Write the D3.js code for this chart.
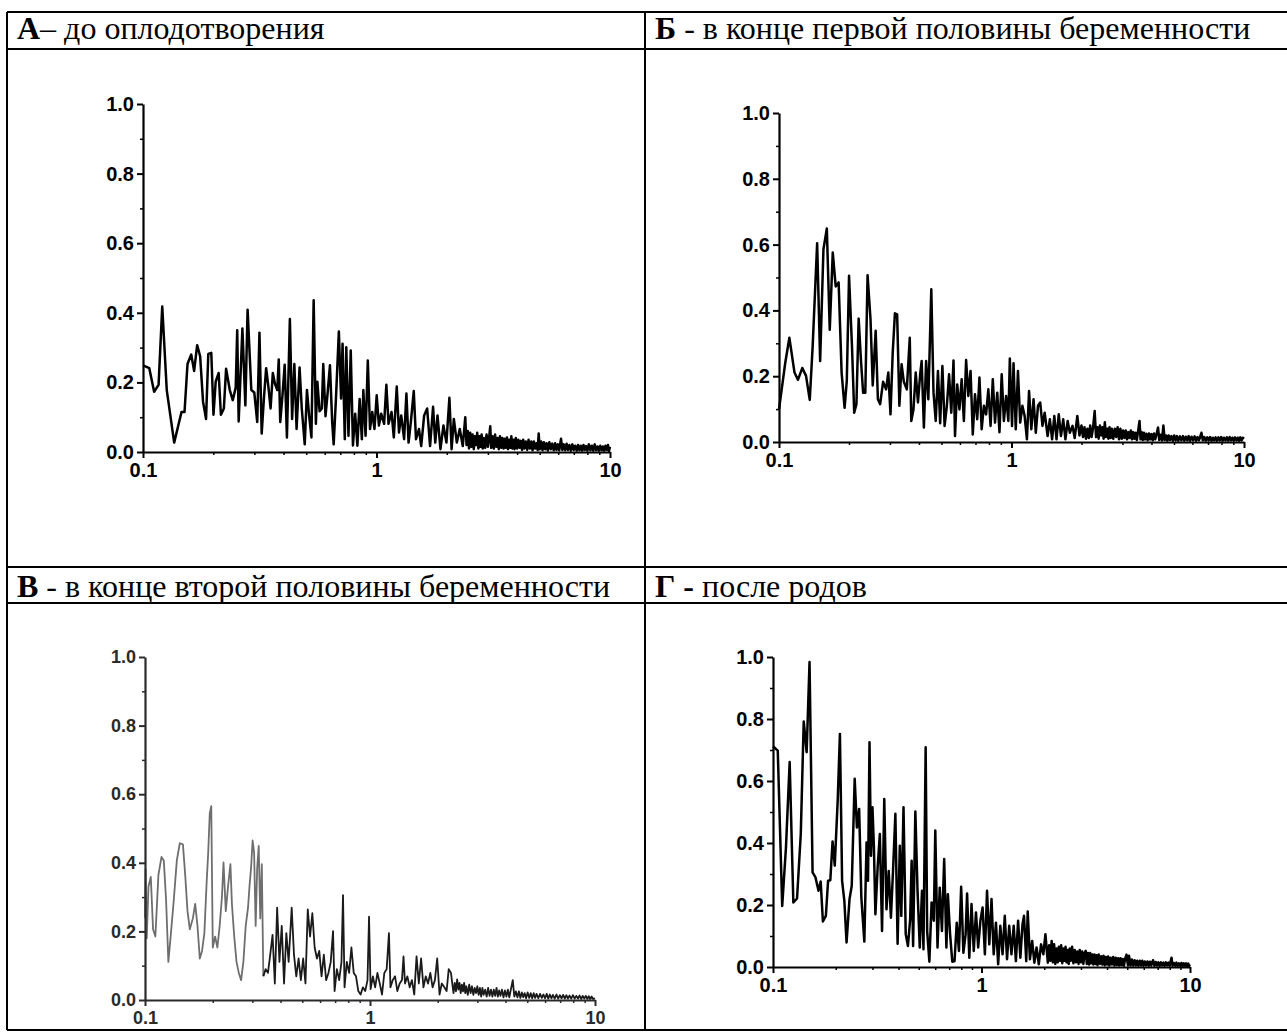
<!DOCTYPE html>
<html><head><meta charset="utf-8">
<script src="https://cdn.jsdelivr.net/npm/d3@7"></script>
<style>
html,body{margin:0;padding:0;background:#fff;}
svg{display:block;}
.hdr{font-family:"Liberation Serif","Times New Roman",serif;font-size:32px;fill:#000;white-space:pre;}
.tick text{font-family:"Liberation Sans",Arial,sans-serif;font-weight:bold;}
</style></head>
<body>
<script>
// ---------- data ----------
const headerBold = ["А", "Б", "В", "Г -"];
const headerRest = ["– до оплодотворения", " - в конце первой половины беременности", " - в конце второй половины беременности", " после родов"];

const yTicks = [0, 0.2, 0.4, 0.6, 0.8, 1.0];
const yMinorTicks = [0.1, 0.3, 0.5, 0.7, 0.9];
const xTicks = [0.1, 1, 10];
const xTickLabels = ["0.1", "1", "10"];
const xMinorTicks = [0.2,0.3,0.4,0.5,0.6,0.7,0.8,0.9,2,3,4,5,6,7,8,9];

const seriesA = [[0.100,0.249],[0.1064,0.241],[0.1116,0.173],[0.1166,0.193],[0.1209,0.418],[0.1264,0.178],[0.1360,0.027],[0.1462,0.115],[0.1506,0.115],[0.1551,0.253],[0.1609,0.28],[0.1656,0.233],[0.1706,0.307],[0.1757,0.275],[0.1808,0.144],[0.1862,0.095],[0.1904,0.282],[0.1961,0.285],[0.2004,0.107],[0.2048,0.202],[0.2109,0.227],[0.2156,0.107],[0.2220,0.125],[0.2269,0.239],[0.2353,0.178],[0.2423,0.149],[0.2495,0.185],[0.2532,0.35],[0.2569,0.088],[0.2665,0.355],[0.2744,0.134],[0.2805,0.409],[0.2910,0.178],[0.2996,0.171],[0.3085,0.086],[0.3153,0.343],[0.3223,0.053],[0.3295,0.154],[0.3368,0.241],[0.3443,0.188],[0.3519,0.125],[0.3597,0.227],[0.3677,0.195],[0.3759,0.178],[0.3814,0.266],[0.3870,0.086],[0.3956,0.163],[0.4044,0.251],[0.4134,0.042],[0.4256,0.382],[0.4351,0.095],[0.4448,0.253],[0.4547,0.066],[0.4683,0.243],[0.4786,0.125],[0.4928,0.022],[0.5037,0.178],[0.5149,0.103],[0.5264,0.042],[0.5381,0.436],[0.5500,0.081],[0.5581,0.202],[0.5705,0.117],[0.5832,0.125],[0.5916,0.253],[0.6048,0.103],[0.6182,0.173],[0.6319,0.249],[0.6460,0.086],[0.6555,0.022],[0.6699,0.149],[0.6899,0.346],[0.7052,0.154],[0.7156,0.311],[0.7315,0.037],[0.7423,0.301],[0.7586,0.047],[0.7756,0.292],[0.7928,0.019],[0.8104,0.11],[0.8284,0.018],[0.8467,0.152],[0.8655,0.037],[0.8783,0.178],[0.8978,0.047],[0.9178,0.263],[0.9381,0.066],[0.9589,0.115],[0.9802,0.066],[1.002,0.163],[1.024,0.076],[1.047,0.11],[1.078,0.081],[1.102,0.193],[1.126,0.081],[1.160,0.115],[1.186,0.042],[1.221,0.188],[1.248,0.056],[1.276,0.105],[1.313,0.037],[1.343,0.168],[1.372,0.027],[1.403,0.086],[1.444,0.175],[1.476,0.037],[1.520,0.066],[1.554,0.017],[1.600,0.105],[1.648,0.125],[1.696,0.017],[1.747,0.13],[1.785,0.027],[1.825,0.105],[1.879,0.008],[1.935,0.076],[1.993,0.027],[2.052,0.156],[2.097,0.008],[2.144,0.095],[2.208,0.027],[2.273,0.066],[2.341,0.017],[2.40,0.10],[2.43,0.02],[2.46,0.06],[2.49,0.01],[2.52,0.055],[2.55,0.015],[2.58,0.05],[2.61,0.008],[2.64,0.045],[2.67,0.02],[2.70,0.055],[2.73,0.01],[2.76,0.045],[2.79,0.015],[2.82,0.05],[2.85,0.01],[2.88,0.04],[2.92,0.012],[2.96,0.05],[3.0,0.015],[3.04,0.045],[3.07,0.074],[3.10,0.012],[3.14,0.045],[3.18,0.01],[3.22,0.05],[3.26,0.015],[3.30,0.04],[3.34,0.008],[3.38,0.045],[3.42,0.012],[3.46,0.04],[3.50,0.01],[3.54,0.038],[3.58,0.012],[3.62,0.042],[3.66,0.008],[3.70,0.035],[3.74,0.012],[3.78,0.045],[3.82,0.01],[3.86,0.035],[3.90,0.008],[3.95,0.04],[4.0,0.01],[4.05,0.035],[4.1,0.012],[4.15,0.032],[4.2,0.006],[4.25,0.035],[4.3,0.01],[4.36,0.03],[4.42,0.006],[4.48,0.035],[4.54,0.01],[4.6,0.03],[4.66,0.005],[4.72,0.03],[4.78,0.01],[4.84,0.025],[4.9,0.006],[4.95,0.053],[5.0,0.008],[5.07,0.03],[5.14,0.005],[5.21,0.028],[5.28,0.008],[5.35,0.025],[5.42,0.004],[5.5,0.028],[5.58,0.008],[5.66,0.024],[5.74,0.005],[5.82,0.025],[5.9,0.006],[5.98,0.022],[6.06,0.005],[6.17,0.038],[6.25,0.006],[6.34,0.022],[6.43,0.005],[6.52,0.024],[6.61,0.006],[6.7,0.02],[6.8,0.004],[6.9,0.022],[7.0,0.006],[7.1,0.018],[7.2,0.004],[7.3,0.02],[7.4,0.005],[7.5,0.018],[7.6,0.004],[7.7,0.02],[7.8,0.006],[7.9,0.017],[8.0,0.004],[8.12,0.022],[8.24,0.005],[8.36,0.018],[8.48,0.004],[8.6,0.022],[8.72,0.005],[8.84,0.016],[8.96,0.004],[9.08,0.018],[9.2,0.005],[9.32,0.016],[9.44,0.004],[9.56,0.018],[9.68,0.006],[9.8,0.02],[9.9,0.003],[10,0.015]];

const seriesB = [[0.1,0.099],[0.1064,0.241],[0.1108,0.317],[0.1166,0.211],[0.1206,0.189],[0.1260,0.225],[0.1307,0.201],[0.1356,0.128],[0.1396,0.292],[0.1459,0.604],[0.1503,0.246],[0.1553,0.586],[0.1606,0.649],[0.1653,0.341],[0.1703,0.576],[0.1753,0.473],[0.1805,0.485],[0.1859,0.211],[0.1915,0.104],[0.1957,0.186],[0.2001,0.505],[0.2060,0.292],[0.2106,0.089],[0.2153,0.115],[0.2201,0.375],[0.2250,0.252],[0.2300,0.150],[0.2351,0.150],[0.2404,0.507],[0.2475,0.373],[0.2530,0.172],[0.2605,0.338],[0.2663,0.130],[0.2723,0.115],[0.2803,0.183],[0.2887,0.160],[0.2952,0.211],[0.3017,0.084],[0.3084,0.272],[0.3152,0.391],[0.3222,0.388],[0.3294,0.110],[0.3368,0.236],[0.3443,0.183],[0.3546,0.160],[0.3651,0.317],[0.3706,0.064],[0.3788,0.099],[0.3873,0.211],[0.3960,0.120],[0.4048,0.206],[0.4107,0.246],[0.4199,0.044],[0.4293,0.246],[0.4388,0.130],[0.4519,0.464],[0.4619,0.150],[0.4721,0.064],[0.4827,0.216],[0.4934,0.057],[0.5044,0.231],[0.5156,0.049],[0.5272,0.110],[0.5389,0.206],[0.5508,0.089],[0.5631,0.248],[0.5715,0.018],[0.5842,0.175],[0.5972,0.099],[0.6105,0.191],[0.6240,0.064],[0.6379,0.249],[0.6521,0.140],[0.6667,0.216],[0.6815,0.023],[0.6966,0.145],[0.7122,0.069],[0.7280,0.196],[0.7442,0.039],[0.7607,0.110],[0.7777,0.084],[0.7950,0.160],[0.8128,0.049],[0.8309,0.191],[0.8494,0.059],[0.8683,0.150],[0.8877,0.030],[0.9075,0.206],[0.9275,0.064],[0.9482,0.140],[0.9693,0.064],[0.9835,0.254],[1.0055,0.049],[1.0203,0.239],[1.043,0.039],[1.066,0.216],[1.090,0.059],[1.114,0.110],[1.139,0.079],[1.165,0.008],[1.190,0.155],[1.217,0.039],[1.244,0.130],[1.272,0.028],[1.300,0.110],[1.329,0.120],[1.359,0.049],[1.389,0.089],[1.430,0.018],[1.462,0.069],[1.495,0.008],[1.528,0.079],[1.562,0.008],[1.597,0.084],[1.632,0.018],[1.669,0.069],[1.706,0.008],[1.744,0.064],[1.782,0.028],[1.83,0.049],[1.87,0.012],[1.919,0.079],[1.96,0.02],[2.0,0.05],[2.03,0.015],[2.06,0.045],[2.09,0.01],[2.12,0.04],[2.15,0.012],[2.18,0.05],[2.21,0.015],[2.24,0.04],[2.279,0.094],[2.31,0.015],[2.34,0.045],[2.37,0.01],[2.40,0.05],[2.43,0.02],[2.46,0.045],[2.49,0.01],[2.52,0.06],[2.55,0.015],[2.58,0.04],[2.61,0.01],[2.64,0.045],[2.67,0.012],[2.70,0.04],[2.74,0.01],[2.78,0.04],[2.82,0.015],[2.86,0.045],[2.90,0.008],[2.94,0.04],[2.98,0.01],[3.02,0.035],[3.06,0.012],[3.10,0.035],[3.14,0.008],[3.18,0.03],[3.22,0.012],[3.26,0.035],[3.30,0.008],[3.34,0.03],[3.38,0.01],[3.42,0.028],[3.46,0.006],[3.50,0.03],[3.553,0.064],[3.59,0.008],[3.63,0.03],[3.67,0.006],[3.71,0.028],[3.75,0.008],[3.8,0.025],[3.85,0.005],[3.9,0.026],[3.95,0.008],[4.0,0.024],[4.05,0.005],[4.1,0.026],[4.15,0.008],[4.2,0.022],[4.27,0.044],[4.32,0.006],[4.38,0.022],[4.44,0.005],[4.5,0.05],[4.56,0.006],[4.62,0.02],[4.68,0.004],[4.74,0.02],[4.8,0.006],[4.87,0.018],[4.94,0.004],[5.01,0.02],[5.08,0.005],[5.15,0.018],[5.22,0.004],[5.3,0.017],[5.38,0.005],[5.46,0.018],[5.54,0.004],[5.62,0.016],[5.7,0.005],[5.78,0.018],[5.86,0.004],[5.95,0.016],[6.04,0.005],[6.13,0.017],[6.22,0.004],[6.31,0.015],[6.4,0.005],[6.48,0.016],[6.56,0.028],[6.65,0.005],[6.75,0.015],[6.85,0.004],[6.95,0.014],[7.05,0.005],[7.15,0.015],[7.25,0.004],[7.35,0.013],[7.45,0.005],[7.55,0.014],[7.65,0.004],[7.76,0.014],[7.87,0.005],[7.98,0.015],[8.09,0.004],[8.2,0.013],[8.32,0.005],[8.44,0.014],[8.56,0.004],[8.68,0.015],[8.8,0.005],[8.92,0.013],[9.04,0.004],[9.16,0.014],[9.28,0.005],[9.4,0.013],[9.52,0.004],[9.64,0.014],[9.76,0.005],[9.88,0.013],[10,0.01]];

const seriesC = [[0.1,0.24],[0.1006,0.38],[0.1018,0.18],[0.1036,0.33],[0.1061,0.359],[0.1086,0.206],[0.1112,0.185],[0.1147,0.364],[0.1184,0.417],[0.1212,0.407],[0.1241,0.290],[0.1270,0.111],[0.1300,0.185],[0.1342,0.290],[0.1385,0.407],[0.1428,0.457],[0.1474,0.454],[0.1509,0.364],[0.1545,0.259],[0.1582,0.206],[0.1632,0.238],[0.1671,0.280],[0.1711,0.216],[0.1752,0.121],[0.1793,0.143],[0.1836,0.195],[0.1879,0.343],[0.1909,0.428],[0.1940,0.544],[0.1970,0.565],[0.2001,0.153],[0.2049,0.185],[0.2098,0.153],[0.2147,0.216],[0.2198,0.301],[0.2233,0.401],[0.2286,0.259],[0.2341,0.333],[0.2397,0.396],[0.2434,0.280],[0.2492,0.185],[0.2551,0.111],[0.2612,0.079],[0.2674,0.058],[0.2737,0.111],[0.2803,0.216],[0.2870,0.269],[0.2915,0.333],[0.2961,0.385],[0.3008,0.465],[0.3055,0.428],[0.3103,0.216],[0.3152,0.385],[0.3202,0.449],[0.3253,0.238],[0.3304,0.396],[0.3357,0.069],[0.3438,0.090],[0.3519,0.079],[0.3603,0.132],[0.3689,0.190],[0.3776,0.048],[0.3866,0.269],[0.3958,0.111],[0.4053,0.216],[0.4149,0.048],[0.4248,0.195],[0.4349,0.111],[0.4487,0.269],[0.4594,0.132],[0.4703,0.069],[0.4815,0.121],[0.4929,0.058],[0.5046,0.121],[0.5166,0.048],[0.5289,0.264],[0.5414,0.185],[0.5543,0.253],[0.5675,0.153],[0.5811,0.121],[0.5949,0.143],[0.6090,0.069],[0.6235,0.132],[0.6384,0.058],[0.6536,0.079],[0.6691,0.111],[0.6850,0.201],[0.6959,0.026],[0.7124,0.090],[0.7295,0.058],[0.7469,0.111],[0.7586,0.306],[0.7706,0.037],[0.7889,0.111],[0.8075,0.079],[0.8267,0.153],[0.8465,0.079],[0.8666,0.069],[0.8872,0.026],[0.9084,0.016],[0.9300,0.037],[0.9522,0.026],[0.9748,0.058],[0.9902,0.243],[1.006,0.032],[1.030,0.069],[1.054,0.037],[1.079,0.079],[1.105,0.048],[1.131,0.016],[1.158,0.079],[1.186,0.090],[1.214,0.195],[1.233,0.037],[1.262,0.058],[1.292,0.069],[1.323,0.026],[1.355,0.048],[1.387,0.058],[1.409,0.127],[1.431,0.048],[1.466,0.069],[1.501,0.037],[1.536,0.058],[1.573,0.016],[1.610,0.127],[1.648,0.048],[1.687,0.121],[1.728,0.037],[1.769,0.069],[1.811,0.048],[1.854,0.079],[1.898,0.037],[1.943,0.058],[1.989,0.121],[2.037,0.016],[2.085,0.048],[2.14,0.037],[2.19,0.026],[2.238,0.090],[2.29,0.079],[2.35,0.02],[2.38,0.05],[2.41,0.025],[2.44,0.06],[2.47,0.03],[2.5,0.05],[2.53,0.02],[2.56,0.045],[2.59,0.025],[2.62,0.05],[2.65,0.02],[2.68,0.04],[2.72,0.015],[2.76,0.045],[2.8,0.02],[2.84,0.04],[2.88,0.015],[2.92,0.035],[2.96,0.02],[3.0,0.04],[3.04,0.015],[3.08,0.035],[3.12,0.01],[3.16,0.035],[3.2,0.015],[3.25,0.03],[3.3,0.01],[3.35,0.035],[3.4,0.012],[3.45,0.03],[3.5,0.01],[3.55,0.03],[3.6,0.012],[3.65,0.035],[3.7,0.01],[3.75,0.028],[3.8,0.012],[3.86,0.03],[3.92,0.008],[3.98,0.028],[4.04,0.01],[4.1,0.03],[4.16,0.008],[4.22,0.028],[4.31,0.058],[4.38,0.01],[4.45,0.025],[4.52,0.008],[4.59,0.025],[4.66,0.006],[4.73,0.022],[4.8,0.008],[4.87,0.02],[4.94,0.005],[5.02,0.022],[5.1,0.006],[5.18,0.02],[5.26,0.005],[5.34,0.02],[5.42,0.006],[5.5,0.018],[5.6,0.005],[5.7,0.018],[5.8,0.006],[5.9,0.016],[6.0,0.005],[6.1,0.018],[6.2,0.004],[6.3,0.016],[6.4,0.005],[6.5,0.015],[6.62,0.004],[6.74,0.016],[6.86,0.004],[6.98,0.014],[7.1,0.005],[7.22,0.015],[7.34,0.004],[7.46,0.014],[7.58,0.004],[7.7,0.013],[7.84,0.004],[7.98,0.014],[8.12,0.004],[8.26,0.012],[8.4,0.004],[8.54,0.013],[8.68,0.003],[8.82,0.012],[8.96,0.004],[9.1,0.012],[9.24,0.003],[9.38,0.011],[9.52,0.003],[9.66,0.01],[9.8,0.003],[10,0.005]];

const seriesD = [[0.1,0.712],[0.1054,0.698],[0.1107,0.197],[0.1154,0.386],[0.1202,0.661],[0.1252,0.208],[0.1304,0.221],[0.1359,0.429],[0.1404,0.792],[0.1450,0.693],[0.1497,0.984],[0.1548,0.305],[0.1599,0.289],[0.1653,0.246],[0.1693,0.276],[0.1735,0.147],[0.1793,0.165],[0.1837,0.278],[0.1883,0.280],[0.1930,0.405],[0.1978,0.327],[0.2043,0.537],[0.2094,0.752],[0.2145,0.278],[0.2199,0.213],[0.2253,0.079],[0.2328,0.219],[0.2386,0.262],[0.2465,0.607],[0.2526,0.450],[0.2589,0.510],[0.2653,0.224],[0.2742,0.082],[0.2810,0.402],[0.2856,0.278],[0.2903,0.725],[0.2951,0.359],[0.2999,0.515],[0.3048,0.386],[0.3098,0.170],[0.3176,0.321],[0.3254,0.429],[0.3334,0.116],[0.3417,0.542],[0.3502,0.186],[0.3589,0.310],[0.3678,0.159],[0.3770,0.321],[0.3863,0.494],[0.3959,0.075],[0.4057,0.391],[0.4124,0.165],[0.4226,0.515],[0.4331,0.106],[0.4438,0.068],[0.4548,0.154],[0.4623,0.343],[0.4699,0.068],[0.4816,0.502],[0.4934,0.246],[0.5057,0.063],[0.5183,0.246],[0.5268,0.057],[0.5397,0.709],[0.5487,0.116],[0.5623,0.017],[0.5762,0.208],[0.5906,0.149],[0.6003,0.440],[0.6152,0.063],[0.6305,0.256],[0.6461,0.116],[0.6622,0.348],[0.6786,0.063],[0.6898,0.235],[0.7069,0.106],[0.7244,0.017],[0.7424,0.019],[0.7608,0.143],[0.7795,0.052],[0.7988,0.259],[0.8187,0.046],[0.8391,0.106],[0.8529,0.237],[0.8740,0.030],[0.8957,0.203],[0.9180,0.052],[0.9407,0.176],[0.9639,0.063],[0.9879,0.149],[1.012,0.192],[1.038,0.041],[1.063,0.246],[1.090,0.073],[1.117,0.219],[1.144,0.041],[1.173,0.143],[1.202,0.009],[1.231,0.133],[1.262,0.041],[1.293,0.165],[1.326,0.025],[1.358,0.133],[1.392,0.041],[1.427,0.133],[1.462,0.019],[1.498,0.149],[1.536,0.030],[1.573,0.138],[1.599,0.165],[1.639,0.019],[1.666,0.179],[1.707,0.025],[1.750,0.084],[1.793,0.014],[1.837,0.063],[1.883,0.009],[1.930,0.073],[1.98,0.041],[2.026,0.106],[2.08,0.014],[2.11,0.07],[2.14,0.02],[2.17,0.084],[2.2,0.015],[2.23,0.073],[2.26,0.01],[2.29,0.06],[2.32,0.015],[2.35,0.065],[2.38,0.02],[2.41,0.07],[2.44,0.012],[2.47,0.06],[2.5,0.02],[2.53,0.065],[2.56,0.015],[2.59,0.055],[2.62,0.01],[2.65,0.06],[2.68,0.02],[2.72,0.065],[2.76,0.012],[2.8,0.055],[2.84,0.015],[2.88,0.05],[2.92,0.01],[2.96,0.055],[3.0,0.015],[3.04,0.05],[3.08,0.01],[3.12,0.045],[3.16,0.052],[3.2,0.01],[3.24,0.045],[3.28,0.008],[3.32,0.045],[3.36,0.012],[3.4,0.04],[3.44,0.008],[3.48,0.04],[3.52,0.01],[3.56,0.038],[3.6,0.006],[3.65,0.04],[3.7,0.01],[3.75,0.035],[3.8,0.008],[3.85,0.036],[3.9,0.006],[3.95,0.032],[4.0,0.008],[4.05,0.034],[4.1,0.005],[4.16,0.03],[4.22,0.008],[4.28,0.032],[4.34,0.005],[4.4,0.03],[4.46,0.006],[4.52,0.028],[4.58,0.005],[4.64,0.028],[4.7,0.006],[4.76,0.026],[4.82,0.004],[4.88,0.025],[4.96,0.04],[5.04,0.005],[5.1,0.036],[5.18,0.005],[5.26,0.024],[5.34,0.004],[5.42,0.022],[5.5,0.005],[5.58,0.02],[5.66,0.004],[5.74,0.02],[5.82,0.005],[5.9,0.02],[5.98,0.004],[6.07,0.018],[6.16,0.005],[6.25,0.018],[6.34,0.004],[6.43,0.017],[6.52,0.005],[6.65,0.022],[6.75,0.004],[6.85,0.016],[6.95,0.005],[7.05,0.015],[7.15,0.004],[7.25,0.015],[7.35,0.005],[7.45,0.014],[7.55,0.004],[7.66,0.015],[7.77,0.005],[7.88,0.014],[7.99,0.004],[8.15,0.03],[8.25,0.004],[8.37,0.013],[8.49,0.004],[8.61,0.014],[8.73,0.003],[8.85,0.012],[8.97,0.004],[9.09,0.013],[9.21,0.003],[9.33,0.012],[9.45,0.004],[9.57,0.012],[9.69,0.003],[9.81,0.011],[9.9,0.004],[10,0.008]];

// ---------- layout ----------
const W = 1287, H = 1036;
const svg = d3.select("body").append("svg").attr("width", W).attr("height", H);

// table grid
const grid = svg.append("g").attr("stroke", "#000").attr("stroke-width", 2).attr("fill", "none");
const tL = 7, tR = 1290, tM = 645, tT = 12, tB = 1030;
[[tL,tT,tR,tT],[tL,49,tR,49],[tL,567,tR,567],[tL,603,tR,603],[tL,tB,tR,tB],
 [tL,tT,tL,tB],[tM,tT,tM,tB]].forEach(l =>
  grid.append("line").attr("x1", l[0]).attr("y1", l[1]).attr("x2", l[2]).attr("y2", l[3]));

// headers
const hdrPos = [[17,39],[655,39],[17,597],[655,597]];
hdrPos.forEach((p, i) => {
  const t = svg.append("text").attr("class", "hdr").attr("x", p[0]).attr("y", p[1]);
  t.append("tspan").attr("font-weight", "bold").text(headerBold[i]);
  t.append("tspan").text(headerRest[i]);
});

// panels
const panels = [
  {data: seriesA, x0: 143, x1: 610, y0: 452, y1: 104, sw: 2.5, fs: 20, col: "#000", split: 0},
  {data: seriesB, x0: 779, x1: 1244, y0: 442, y1: 113, sw: 2.5, fs: 20, col: "#000", split: 0},
  {data: seriesC, x0: 145, x1: 595, y0: 1000, y1: 657, sw: 1.8, fs: 18, col: "#2a2a2a", split: 0.336},
  {data: seriesD, x0: 773, x1: 1190, y0: 967, y1: 657, sw: 2.5, fs: 20, col: "#000", split: 0}
];

panels.forEach(p => {
  const x = d3.scaleLog().domain([0.1, 10]).range([p.x0, p.x1]);
  const y = d3.scaleLinear().domain([0, 1]).range([p.y0, p.y1]);
  const g = svg.append("g");
  const line = d3.line().x(d => x(d[0])).y(d => y(d[1]));

  // minor ticks
  g.append("g").attr("transform", `translate(${p.x0},0)`)
    .call(d3.axisLeft(y).tickValues(yMinorTicks).tickSize(3).tickFormat(""))
    .call(s => s.select(".domain").remove())
    .call(s => s.selectAll("line").attr("stroke", p.col).attr("stroke-width", 1.5));
  g.append("g").attr("transform", `translate(0,${p.y0})`)
    .call(d3.axisBottom(x).tickValues(xMinorTicks).tickSize(3).tickFormat(""))
    .call(s => s.select(".domain").remove())
    .call(s => s.selectAll("line").attr("stroke", p.col).attr("stroke-width", 1.5));

  // data line(s)
  if (p.split) {
    g.append("path").datum(p.data.filter(d => d[0] <= p.split))
      .attr("fill", "none").attr("stroke", "#6e6e6e").attr("stroke-width", p.sw)
      .attr("stroke-linejoin", "round").attr("d", line);
    g.append("path").datum(p.data.filter(d => d[0] >= p.split * 0.99))
      .attr("fill", "none").attr("stroke", "#1a1a1a").attr("stroke-width", p.sw)
      .attr("stroke-linejoin", "round").attr("d", line);
  } else {
    g.append("path").datum(p.data)
      .attr("fill", "none").attr("stroke", "#000").attr("stroke-width", p.sw)
      .attr("stroke-linejoin", "round").attr("d", line);
  }

  // major axes
  const ya = g.append("g").attr("transform", `translate(${p.x0},0)`)
    .call(d3.axisLeft(y).tickValues(yTicks).tickSize(6).tickSizeOuter(0).tickPadding(3).tickFormat(d3.format(".1f")));
  const xa = g.append("g").attr("transform", `translate(0,${p.y0})`)
    .call(d3.axisBottom(x).tickValues(xTicks).tickSize(6).tickSizeOuter(0).tickPadding(5).tickFormat((d, i) => xTickLabels[i]));
  [ya, xa].forEach(a => {
    a.select(".domain").attr("stroke", p.col).attr("stroke-width", 2.2);
    a.selectAll(".tick line").attr("stroke", p.col).attr("stroke-width", 2);
    a.selectAll(".tick text").attr("font-size", p.fs).attr("fill", p.col);
  });
});
</script>
</body></html>
